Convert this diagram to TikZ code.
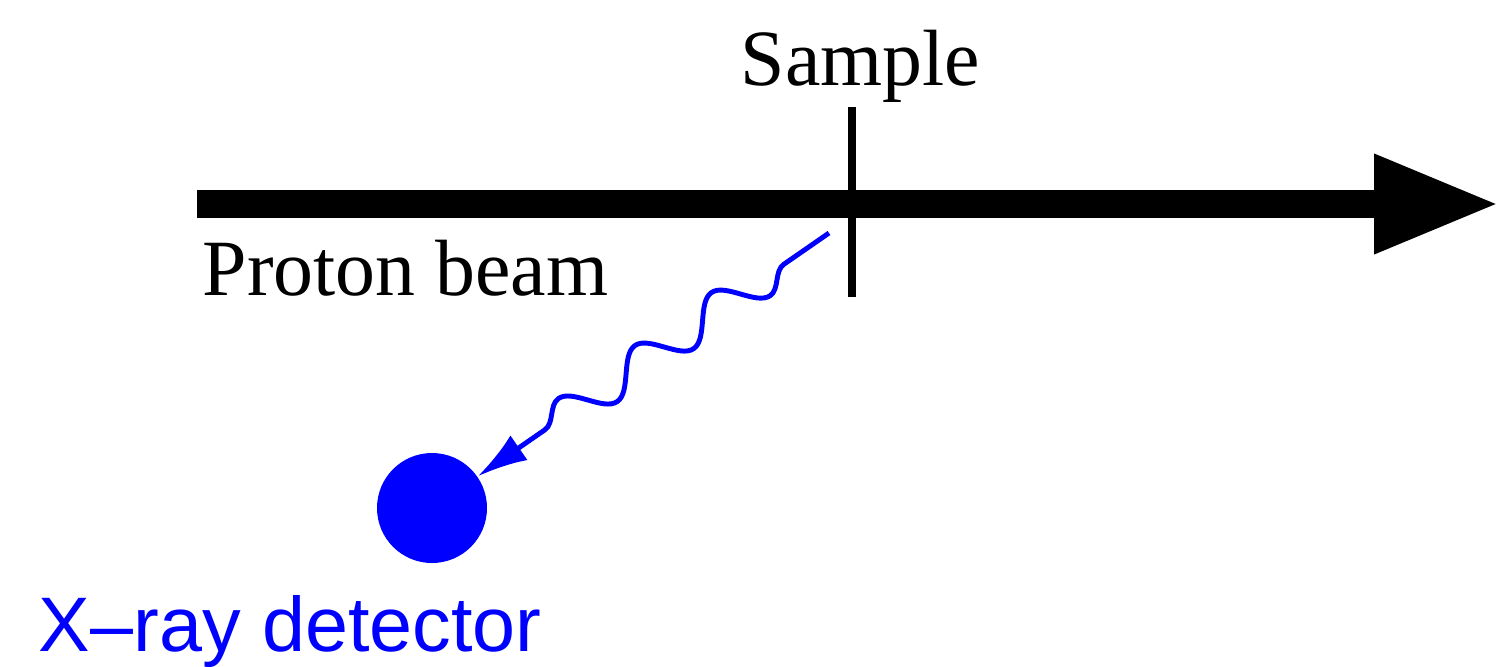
\documentclass[tikz,border=0pt]{standalone}
\usepackage{fontspec}
\setmainfont{Liberation Serif}
\newfontfamily\detfont{Liberation Sans}
\usetikzlibrary{arrows.meta,decorations.pathmorphing}

\begin{document}
\begin{tikzpicture}
    % Styles
    \tikzset{label text/.style={inner sep=0pt, anchor=base west, font=\fontsize{22.7}{27}\selectfont},
             beam line/.style={line width=0.28cm, -{Triangle[length=1.26cm,width=0.92cm]}},
             photon/.style={blue, line width=1.4pt, -{Latex[length=5mm,width=3mm]},
               decoration={snake, segment length=0.93cm, amplitude=0.18cm, pre length=0.55cm, post length=0.7cm}},
             detector/.style={circle, fill=blue, minimum size=1.1cm, inner sep=0pt}}
    \useasboundingbox (0,0) rectangle (15,-6.66);

    % --- Proton beam ---
    \coordinate (beamstart) at (1.97,-2.04);
    \coordinate (beamend) at (15,-2.04);
    \draw[beam line] (beamstart) -- (beamend);
    \node[label text] (beamlabel) at (2.02,-2.95) {Proton beam};

    % --- Sample ---
    \coordinate (sampletop) at (8.52,-1.07);
    \coordinate (samplebot) at (8.52,-2.97);
    \draw[line width=0.08cm] (sampletop) -- (samplebot);
    \node[label text] (samplelabel) at (7.40,-0.85) {Sample};

    % --- X-ray detector ---
    \node[detector] (det) at (4.32,-5.08) {};
    \node[label text, font=\fontsize{22}{26}\detfont, text=blue] (detlabel) at (0.38,-6.51) {X–ray detector};

    % Emitted X-ray
    \coordinate (emit) at (8.29,-2.33);
    \draw[photon, decorate] (emit) -- (det);

\end{tikzpicture}
\end{document}
